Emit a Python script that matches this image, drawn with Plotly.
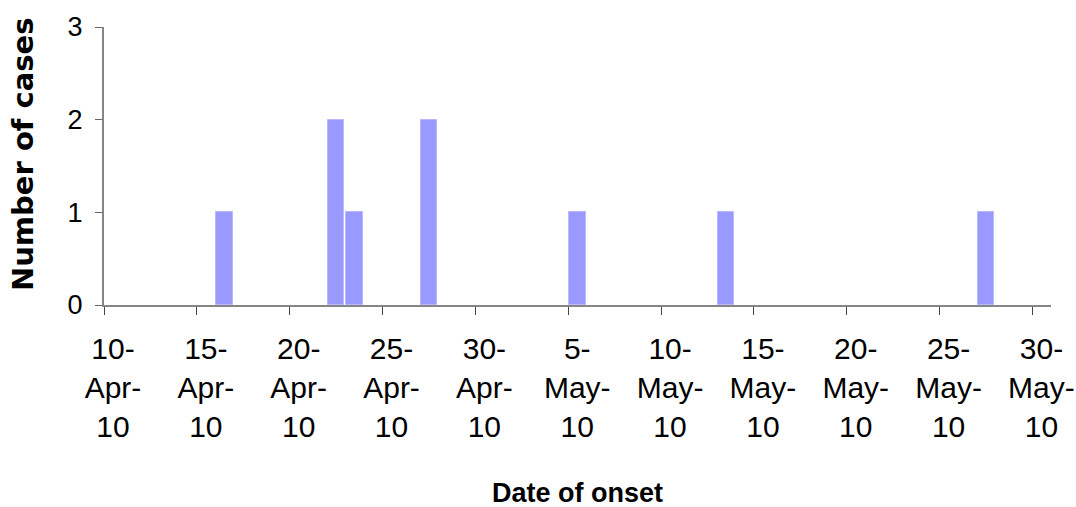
import plotly.graph_objects as go
from datetime import datetime, timedelta

# Onset dates and number of cases per day
onset_dates = ["2010-04-16", "2010-04-22", "2010-04-23", "2010-04-27",
               "2010-05-05", "2010-05-13", "2010-05-27"]
case_counts = [1, 2, 1, 2, 1, 1, 1]

# Axis ticks every 5 days
tick_dates = ["2010-04-10", "2010-04-15", "2010-04-20", "2010-04-25", "2010-04-30",
              "2010-05-05", "2010-05-10", "2010-05-15", "2010-05-20", "2010-05-25",
              "2010-05-30"]
tick_labels = ["10-<br>Apr-<br>10", "15-<br>Apr-<br>10", "20-<br>Apr-<br>10",
               "25-<br>Apr-<br>10", "30-<br>Apr-<br>10", "5-<br>May-<br>10",
               "10-<br>May-<br>10", "15-<br>May-<br>10", "20-<br>May-<br>10",
               "25-<br>May-<br>10", "30-<br>May-<br>10"]
y_ticks = [0, 1, 2, 3]

DAY_MS = 86400000
# each bar fills its day slot, so centre it at midday
bar_x = [datetime.fromisoformat(d) + timedelta(hours=12) for d in onset_dates]

fig = go.Figure(go.Bar(
    x=bar_x,
    y=case_counts,
    width=0.9 * DAY_MS,
    marker=dict(color="#9999FF", line=dict(color="#B8B8FF", width=1)),
    hoverinfo="x+y",
))

axis_grey = "#868686"

fig.update_layout(
    width=1076, height=507,
    margin=dict(l=104, r=25, t=27, b=202),
    paper_bgcolor="white",
    plot_bgcolor="white",
    showlegend=False,
    bargap=0,
    font=dict(family="Liberation Sans, Arial", color="black"),
    xaxis=dict(
        type="date",
        range=["2010-04-10", "2010-05-31"],
        tickvals=tick_dates,
        ticktext=tick_labels,
        tickfont=dict(size=30),
        ticks="outside", ticklen=8, tickwidth=1, tickcolor="#444444",
        ticklabelshift=9,
        ticklabelstandoff=8,
        showline=True, linecolor=axis_grey, linewidth=2,
        showgrid=False, zeroline=False,
        automargin=False,
        fixedrange=True,
    ),
    yaxis=dict(
        range=[0, 3],
        tickvals=y_ticks,
        tickfont=dict(size=27),
        ticks="outside", ticklen=7, tickwidth=1, tickcolor="#666666",
        ticklabelstandoff=7,
        showline=True, linecolor=axis_grey, linewidth=2,
        showgrid=False, zeroline=False,
        automargin=False,
        fixedrange=True,
    ),
    annotations=[
        dict(text="<b>Number of cases</b>", textangle=-90,
             xref="paper", yref="paper", x=-0.0855, y=0.543,
             xanchor="center", yanchor="middle", showarrow=False,
             font=dict(family="DejaVu Sans", size=29, color="black")),
        dict(text="<b>Date of onset</b>",
             xref="paper", yref="paper", x=0.5, y=-0.675,
             xanchor="center", yanchor="middle", showarrow=False,
             font=dict(size=27, color="black")),
    ],
)

fig.write_html("out.html")
